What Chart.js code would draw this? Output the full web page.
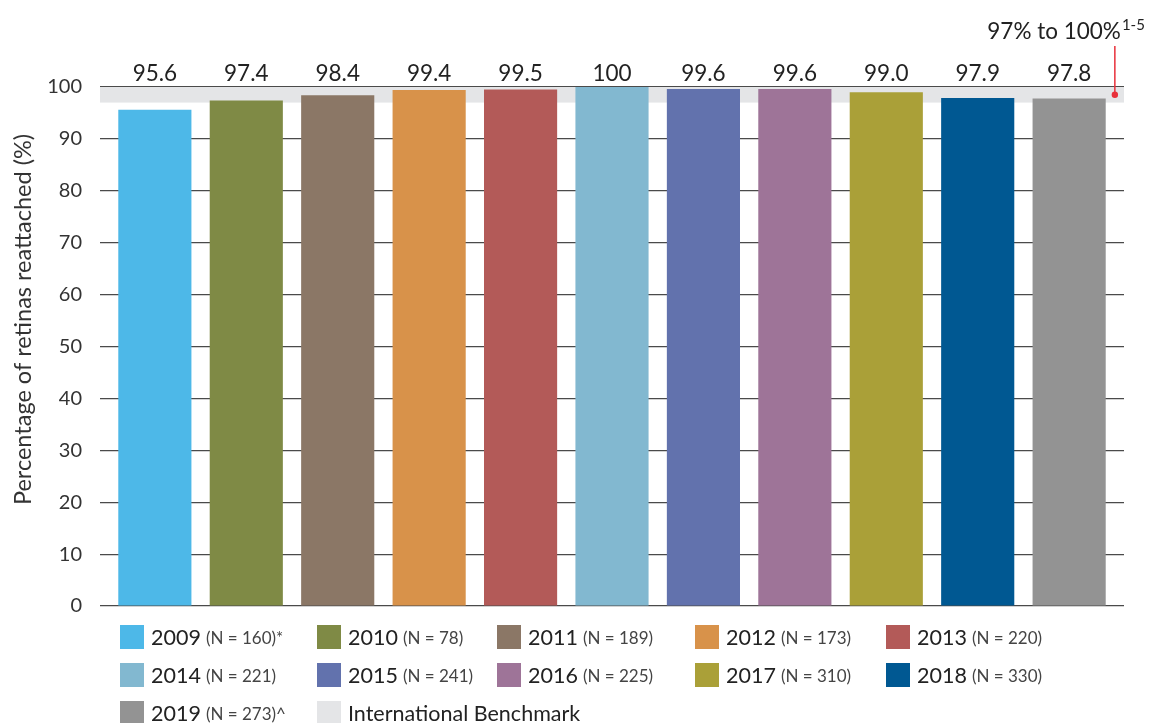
<!DOCTYPE html>
<html>
<head>
<meta charset="utf-8">
<script src="https://cdn.jsdelivr.net/npm/chart.js@4.4.0/dist/chart.umd.min.js"></script>
<style>
  html, body { margin: 0; padding: 0; background: #fff; }
  #wrap { position: relative; width: 1150px; height: 723px; overflow: hidden; font-family: Lato, sans-serif; }
  #chart { position: absolute; left: 0; top: 0; }
  #legend {
    position: absolute; left: 120px; top: 625px;
    display: grid; grid-template-columns: 197px 180px 198px 191px auto;
    row-gap: 14px;
  }
  .item { display: flex; align-items: center; height: 24px; white-space: nowrap; color: #222; }
  .sw { width: 24px; height: 24px; margin-right: 7px; flex: none; }
  .yr { font-size: 21.5px; }
  .n { font-size: 17px; color: #444; margin-left: 5px; }
</style>
</head>
<body>
<div id="wrap">
  <canvas id="chart" width="1150" height="723"></canvas>
  <div id="legend"></div>
</div>
<script>
const YEARS = ["2009", "2010", "2011", "2012", "2013", "2014", "2015", "2016", "2017", "2018", "2019"];
const SAMPLE_NOTES = ["(N = 160)*", "(N = 78)", "(N = 189)", "(N = 173)", "(N = 220)", "(N = 221)",
  "(N = 241)", "(N = 225)", "(N = 310)", "(N = 330)", "(N = 273)^"];
const VALUES = [95.6, 97.4, 98.4, 99.4, 99.5, 100, 99.6, 99.6, 99.0, 97.9, 97.8];
const VALUE_LABELS = ["95.6", "97.4", "98.4", "99.4", "99.5", "100", "99.6", "99.6", "99.0", "97.9", "97.8"];
const COLORS = ["#4db8e8", "#7f8a45", "#8b7766", "#d8924a", "#b35a58", "#82b8d0",
  "#6272ad", "#9e7498", "#aaa038", "#005892", "#939393"];
const BENCHMARK = [97, 100];
const BENCHMARK_LABEL = "International Benchmark";
const BENCHMARK_COLOR = "#e4e5e7";
const Y_TICKS = [0, 10, 20, 30, 40, 50, 60, 70, 80, 90, 100];
const Y_TITLE = "Percentage of retinas reattached (%)";

const FONT = "Lato, sans-serif";

// grey benchmark band behind the bars
const bandPlugin = {
  id: "band",
  beforeDatasetsDraw(chart) {
    const { ctx, chartArea, scales } = chart;
    const yTop = scales.y.getPixelForValue(BENCHMARK[1]);
    const yBot = scales.y.getPixelForValue(BENCHMARK[0]);
    ctx.save();
    ctx.fillStyle = BENCHMARK_COLOR;
    ctx.fillRect(chartArea.left, yTop, chartArea.right - chartArea.left, yBot - yTop);
    ctx.restore();
  }
};

// value labels in a row above the plot, plus the rotated y title
const labelPlugin = {
  id: "valueLabels",
  afterDraw(chart) {
    const { ctx, chartArea } = chart;
    const meta = chart.getDatasetMeta(0);
    ctx.save();
    ctx.font = "22.5px " + FONT;
    ctx.fillStyle = "#222";
    ctx.textAlign = "center";
    ctx.textBaseline = "middle";
    meta.data.forEach((bar, i) => ctx.fillText(VALUE_LABELS[i], bar.x, chartArea.top - 13));

    ctx.translate(23, (chartArea.top + chartArea.bottom) / 2 - 27);
    ctx.rotate(-Math.PI / 2);
    ctx.font = "23.5px " + FONT;
    ctx.fillStyle = "#333";
    ctx.fillText(Y_TITLE, 0, 0);
    ctx.restore();
  }
};

// "97% to 100%" callout with red pointer
const calloutPlugin = {
  id: "callout",
  afterDraw(chart) {
    const { ctx, chartArea, scales } = chart;
    const x = scales.x.getPixelForValue(VALUES.length - 0.5);
    const y = scales.y.getPixelForValue((BENCHMARK[0] + BENCHMARK[1]) / 2);
    ctx.save();
    ctx.strokeStyle = "#e8303a";
    ctx.fillStyle = "#e8303a";
    ctx.lineWidth = 1.5;
    ctx.beginPath();
    ctx.moveTo(x, chartArea.top - 41);
    ctx.lineTo(x, y);
    ctx.stroke();
    ctx.beginPath();
    ctx.arc(x, y, 3.2, 0, Math.PI * 2);
    ctx.fill();

    ctx.fillStyle = "#222";
    ctx.textBaseline = "alphabetic";
    ctx.textAlign = "right";
    ctx.font = "15px " + FONT;
    const sup = "1-5";
    const supW = ctx.measureText(sup).width;
    const right = x + 30;
    ctx.fillText(sup, right, 30);
    ctx.font = "22.5px " + FONT;
    ctx.fillText(BENCHMARK[0] + "% to " + BENCHMARK[1] + "%", right - supW - 1, 39);
    ctx.restore();
  }
};

new Chart(document.getElementById("chart"), {
  type: "bar",
  data: {
    datasets: [{
      data: VALUES.map((v, i) => ({ x: i, y: v })),
      backgroundColor: COLORS,
      borderWidth: 0,
      barPercentage: 0.8,
      categoryPercentage: 1
    }]
  },
  options: {
    responsive: false,
    animation: false,
    layout: { padding: { top: 87, right: 26, bottom: 117, left: 0 } },
    plugins: { legend: { display: false }, tooltip: { enabled: false } },
    scales: {
      x: {
        type: "linear",
        offset: false,
        min: -0.6,
        max: VALUES.length - 0.4,
        display: false,
        afterBuildTicks: s => { s.ticks = VALUES.map((v, i) => ({ value: i })); }
      },
      y: {
        min: 0,
        max: 100,
        z: 1,
        afterFit: s => { s.width = 100; },
        afterBuildTicks: s => { s.ticks = Y_TICKS.map(v => ({ value: v })); },
        border: { display: false },
        grid: { color: "#4a4a4a", lineWidth: 1.2, drawTicks: false },
        ticks: { color: "#333", font: { family: FONT, size: 20 }, padding: 18 }
      }
    }
  },
  plugins: [bandPlugin, labelPlugin, calloutPlugin]
});

// legend
const legend = document.getElementById("legend");
YEARS.forEach((yr, i) => {
  legend.insertAdjacentHTML("beforeend",
    `<div class="item"><span class="sw" style="background:${COLORS[i]}"></span>` +
    `<span class="yr">${yr}</span><span class="n">${SAMPLE_NOTES[i]}</span></div>`);
});
legend.insertAdjacentHTML("beforeend",
  `<div class="item"><span class="sw" style="background:${BENCHMARK_COLOR}"></span>` +
  `<span class="yr">${BENCHMARK_LABEL}</span></div>`);
</script>
</body>
</html>
